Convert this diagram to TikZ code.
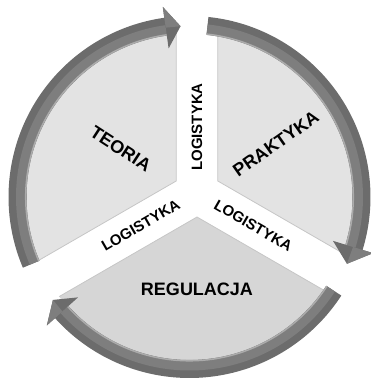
\documentclass[tikz,border=0pt]{standalone}
\usepackage{fontspec}
\setmainfont{Liberation Sans}
\usetikzlibrary{calc}

\definecolor{ringdark}{HTML}{6C6C6C}
\definecolor{ringmid}{HTML}{7E7E7E}
\definecolor{ringlight}{HTML}{ABABAB}
\definecolor{sectorlight}{HTML}{E3E3E3}
\definecolor{sectordark}{HTML}{D6D6D6}
\definecolor{sectoredge}{HTML}{C6C6C6}

% #1 tail angle, #2 head base angle, #3 tip angle (clockwise)
\newcommand{\ringarrow}[3]{%
  \fill[ringdark] ($(O)+(#1:181)$) arc[start angle=#1,end angle=#2,radius=181]
    -- ($(O)+(#2:192)$) -- ($(O)+(#3:171)$) -- ($(O)+(#2:150)$) -- ($(O)+(#2:163)$)
    arc[start angle=#2,end angle=#1,radius=163] -- cycle;
  \draw[ringmid,line width=10] ($(O)+(#1:168.5)$) arc[start angle=#1,end angle=#2,radius=168.5];
  \draw[ringlight,line width=1.5] ($(O)+(#1:163.8)$) arc[start angle=#1,end angle=#2,radius=163.8];
  \fill[ringmid] ($(O)+(#2:192)$) -- ($(O)+(#3:171)$) -- ($(O)+(#2:171)$) -- cycle;
}

\begin{document}
\begin{tikzpicture}[x=1pt,y=1pt,
  sector/.style={draw=sectoredge,line width=0.8},
  bigtext/.style={font=\bfseries\fontsize{18}{20}\selectfont},
  gaptext/.style={font=\bfseries\fontsize{15}{17}\selectfont}]
\useasboundingbox (0,0) rectangle (370,383);
\coordinate (O) at (189.5,186);
\coordinate (S) at (197,190);
\coordinate (aT) at ($(S)+(150:24)$);
\coordinate (aP) at ($(S)+(30:24)$);
\coordinate (aR) at ($(S)+(270:24)$);

% sectors
\begin{scope}
\clip (O) circle (164);
\filldraw[sector,fill=sectorlight] (aT) -- ($(aT)+(90:400)$) -- ($(aT)+(150:400)$) -- ($(aT)+(210:400)$) -- cycle;
\filldraw[sector,fill=sectorlight] (aP) -- ($(aP)+(90:400)$) -- ($(aP)+(30:400)$) -- ($(aP)+(-30:400)$) -- cycle;
\filldraw[sector,fill=sectordark] (aR) -- ($(aR)+(210:400)$) -- ($(aR)+(270:400)$) -- ($(aR)+(330:400)$) -- cycle;
\end{scope}

% arrows
\ringarrow{203}{98}{93}
\ringarrow{84}{-17}{-23}
\ringarrow{-33}{-138}{-143}

\node[bigtext,rotate=-33] (teoria) at ($(S)+(150:88)$) {TEORIA};
\node[bigtext,rotate=35] (praktyka) at ($(S)+(32:93)$) {PRAKTYKA};
\node[bigtext] (regulacja) at ($(S)+(270:96)$) {REGULACJA};
\node[gaptext,rotate=90] (logtop) at ($(S)+(90:66)$) {LOGISTYKA};
\node[gaptext,rotate=30] (logleft) at ($(S)+(210:65)$) {LOGISTYKA};
\node[gaptext,rotate=-30] (logright) at ($(S)+(330:65)$) {LOGISTYKA};
\end{tikzpicture}
\end{document}
